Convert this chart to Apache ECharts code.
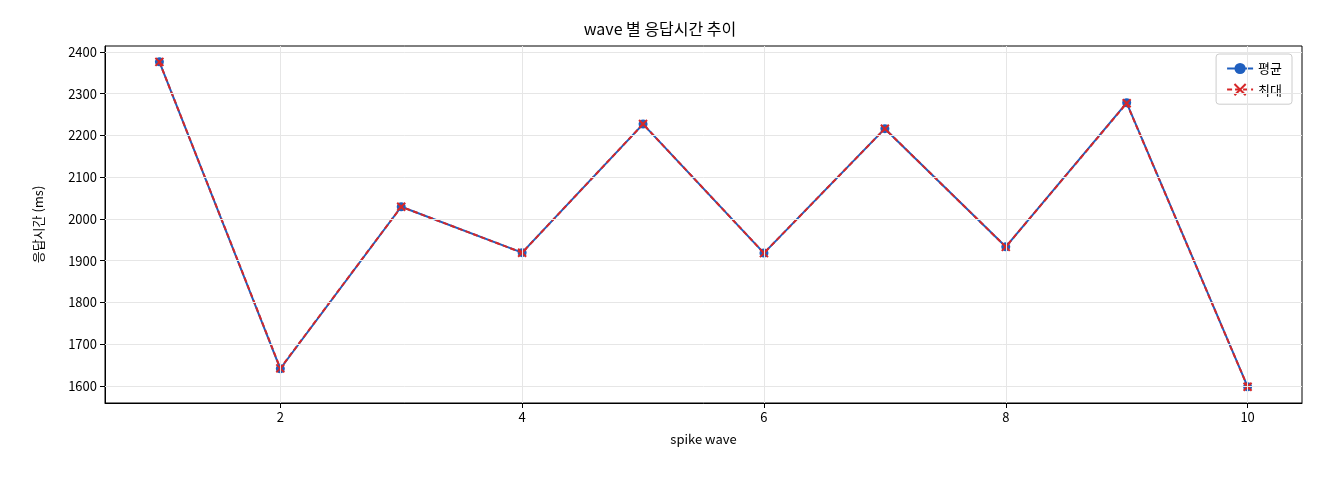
<!DOCTYPE html>
<html><head><meta charset="utf-8">
<script src="https://cdn.jsdelivr.net/npm/echarts@6/dist/echarts.min.js"></script>
<style>html,body{margin:0;padding:0;background:#fff}#c{width:1320px;height:480px}</style>
</head><body><div id="c"></div>
<script>
const waves = [1,2,3,4,5,6,7,8,9,10];
const avgVals = [2376,1641,2029,1919,2227,1918,2216,1933,2278,1598];
const maxVals = [2376,1642,2029,1919,2227,1918,2216,1933,2277,1598];
const xTicks = [2,4,6,8,10];
const yTicks = [1600,1700,1800,1900,2000,2100,2200,2300,2400];
const font = "'Noto Sans CJK KR', 'DejaVu Sans', sans-serif";
const chart = echarts.init(document.getElementById('c'));
chart.setOption({
  animation:false,
  textStyle:{fontFamily:font},
  title:{text:'wave 별 응답시간 추이',left:'center',top:16,textStyle:{fontSize:16,fontWeight:'normal',color:'#000',fontFamily:font}},
  grid:{left:105,right:18,top:46,bottom:77,show:true,borderColor:'#000',borderWidth:1},
  legend:{right:28,top:54,orient:'vertical',itemGap:8,itemWidth:26,backgroundColor:'#fff',borderColor:'#ccc',borderWidth:1,borderRadius:3,padding:[8,10],
    textStyle:{fontSize:13,color:'#000'},
    data:['평균','최대']},
  xAxis:{type:'value',min:0.55,max:10.45,
    name:'spike wave',nameLocation:'middle',nameGap:30,nameTextStyle:{fontSize:13,color:'#000'},
    axisLine:{lineStyle:{color:'#000'}},
    axisLabel:{fontSize:13,color:'#000',customValues:xTicks},
    axisTick:{customValues:xTicks,lineStyle:{color:'#000'}},
    splitLine:{show:false}},
  yAxis:{type:'value',min:1559,max:2414,
    name:'응답시간 (ms)',nameLocation:'middle',nameGap:60,nameTextStyle:{fontSize:13,color:'#000'},
    axisLine:{show:true,lineStyle:{color:'#000'}},
    axisLabel:{fontSize:13,color:'#000',customValues:yTicks,formatter:v=>String(v)},
    axisTick:{show:true,customValues:yTicks,lineStyle:{color:'#000'}},
    splitLine:{show:false}},
  series:[
    {type:'line',name:'평균',data:waves.map((w,i)=>[w,avgVals[i]]),symbol:'circle',symbolSize:9,
      lineStyle:{color:'#1f5fbf',width:2},itemStyle:{color:'#1f5fbf'},
      markLine:{silent:true,symbol:'none',label:{show:false},lineStyle:{color:'#e6e6e6',width:1,type:'solid'},
        data:xTicks.map(v=>({xAxis:v})).concat(yTicks.map(v=>({yAxis:v})))},z:2},
    {type:'line',name:'최대',data:waves.map((w,i)=>[w,maxVals[i]]),symbol:'path://M0,0L10,10M10,0L0,10',symbolSize:8,
      lineStyle:{color:'#d62728',width:2,type:[5,3]},itemStyle:{color:'#d62728',borderColor:'#d62728',borderWidth:2},z:3}
  ]
});
</script></body></html>
